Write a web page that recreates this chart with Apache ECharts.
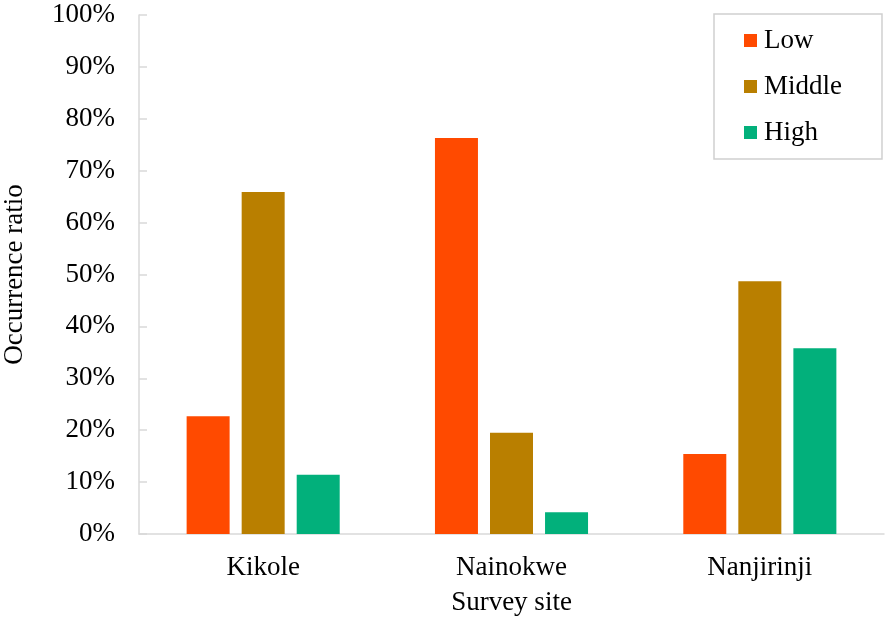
<!DOCTYPE html>
<html><head><meta charset="utf-8">
<script src="https://cdn.jsdelivr.net/npm/echarts@6/dist/echarts.min.js"></script>
<style>html,body{margin:0;padding:0;background:#fff}#c{width:886px;height:620px}</style>
</head><body><div id="c"></div>
<script>
const categories = ['Kikole', 'Nainokwe', 'Nanjirinji'];
const lowValues = [22.7, 76.3, 15.4];
const middleValues = [65.9, 19.5, 48.7];
const highValues = [11.4, 4.2, 35.8];
const seriesNames = ['Low', 'Middle', 'High'];
const colors = ['#FF4A00', '#B97F00', '#02B07B'];

const font = 'Liberation Serif';
const fs = 27;
const chart = echarts.init(document.getElementById('c'));
const dataSets = [lowValues, middleValues, highValues];
chart.setOption({
  animation: false,
  textStyle: { fontFamily: font },
  grid: { left: 139, right: 2, top: 15, bottom: 86, outerBoundsMode: 'none', containLabel: false },
  legend: {
    left: 714, top: 14, orient: 'vertical',
    itemWidth: 13, itemHeight: 13, itemGap: 19,
    padding: [13, 40, 13, 30],
    borderColor: '#d0d0d0', borderWidth: 1.5,
    icon: 'rect',
    textStyle: { fontFamily: font, fontSize: fs, color: '#000', padding: [0, 0, 0, 2] },
    data: seriesNames
  },
  xAxis: {
    type: 'category', data: categories,
    name: 'Survey site', nameLocation: 'middle', nameGap: 55,
    nameTextStyle: { fontFamily: font, fontSize: fs, color: '#000' },
    axisLine: { lineStyle: { color: '#d9d9d9', width: 1.5 } },
    axisTick: { show: false },
    axisLabel: { fontFamily: font, fontSize: fs, color: '#000', margin: 20 }
  },
  yAxis: {
    type: 'value', min: 0, max: 100, interval: 10,
    name: 'Occurrence ratio', nameLocation: 'middle', nameGap: 111, nameRotate: 90,
    nameTextStyle: { fontFamily: font, fontSize: fs, color: '#000' },
    axisLine: { show: true, lineStyle: { color: '#d9d9d9', width: 1.5 } },
    axisTick: { show: true, inside: true, length: 8, lineStyle: { color: '#d9d9d9', width: 1.5 } },
    splitLine: { show: false },
    axisLabel: { fontFamily: font, fontSize: fs, color: '#000', margin: 24, formatter: '{value}%' }
  },
  series: seriesNames.map((n, i) => ({
    name: n, type: 'bar', data: dataSets[i],
    barWidth: 43, barGap: '28%',
    itemStyle: { color: colors[i] }
  }))
});
</script></body></html>
